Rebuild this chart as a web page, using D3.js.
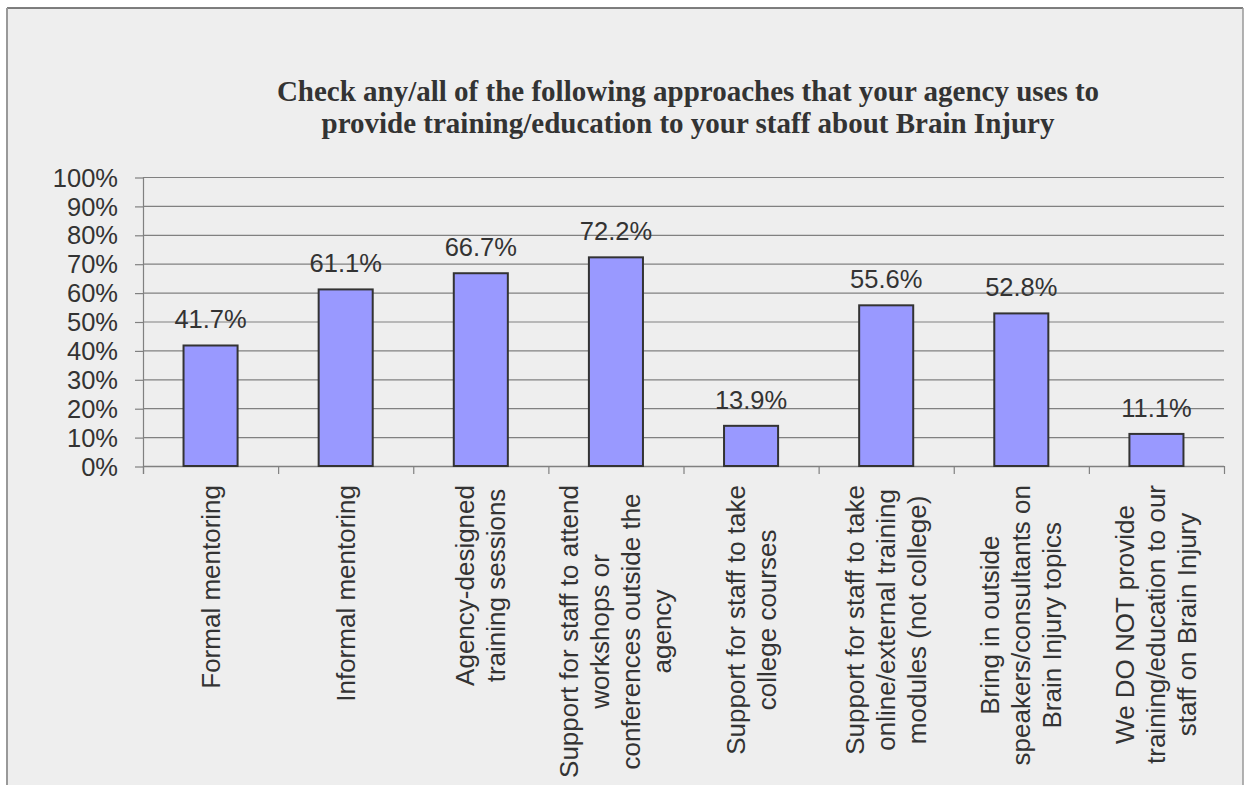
<!DOCTYPE html>
<html>
<head>
<meta charset="utf-8">
<script src="https://cdn.jsdelivr.net/npm/d3@7"></script>
<style>
  html, body { margin: 0; padding: 0; background: #ffffff; }
  svg { display: block; }
</style>
</head>
<body>
<svg id="chart" width="1252" height="785"></svg>
<script>
// Survey responses: share of agencies using each training approach
const categories = [
  ["Formal mentoring"],
  ["Informal mentoring"],
  ["Agency-designed", "training sessions"],
  ["Support for staff to attend", "workshops or", "conferences outside the", "agency"],
  ["Support for staff to take", "college courses"],
  ["Support for staff to take", "online/external training", "modules (not college)"],
  ["Bring in outside", "speakers/consultants on", "Brain Injury topics"],
  ["We DO NOT provide", "training/education to our", "staff on Brain Injury"]
];
const values = [41.7, 61.1, 66.7, 72.2, 13.9, 55.6, 52.8, 11.1];
const yTicks = [0, 10, 20, 30, 40, 50, 60, 70, 80, 90, 100];
const titleLines = [
  "Check any/all of the following approaches that your agency uses to",
  "provide training/education to your staff about Brain Injury"
];

const svg = d3.select("#chart");
const textColor = "#333333";
const gridColor = "#808080";

// Chart frame
svg.append("rect")
  .attr("x", 7).attr("y", 8)
  .attr("width", 1236).attr("height", 800)
  .attr("fill", "#eeeeee");
svg.append("line")
  .attr("x1", 7).attr("x2", 1243).attr("y1", 8).attr("y2", 8)
  .attr("stroke", "#555555").attr("stroke-width", 1.5);
svg.append("line")
  .attr("x1", 7).attr("x2", 7).attr("y1", 8).attr("y2", 785)
  .attr("stroke", "#999999").attr("stroke-width", 2);
svg.append("line")
  .attr("x1", 1243).attr("x2", 1243).attr("y1", 8).attr("y2", 785)
  .attr("stroke", "#999999").attr("stroke-width", 1.5);

const plot = { left: 143, right: 1224, top: 177, bottom: 466 };

const x = d3.scaleBand()
  .domain(d3.range(categories.length))
  .range([plot.left, plot.right])
  .paddingInner(0).paddingOuter(0);

const y = d3.scaleLinear()
  .domain([0, 100])
  .range([plot.bottom, plot.top]);

// Title
svg.append("text")
  .attr("x", 688)
  .attr("y", 101)
  .attr("text-anchor", "middle")
  .attr("font-family", "'Liberation Serif', 'Times New Roman', serif")
  .attr("font-weight", "bold")
  .attr("font-size", 29)
  .attr("fill", textColor)
  .selectAll("tspan")
  .data(titleLines)
  .join("tspan")
  .attr("x", 688)
  .attr("dy", (d, i) => i === 0 ? 0 : 32)
  .text(d => d);

// Horizontal gridlines
svg.append("g")
  .selectAll("line")
  .data(yTicks.slice(1))
  .join("line")
  .attr("x1", plot.left).attr("x2", plot.right)
  .attr("y1", d => y(d) + 0.5).attr("y2", d => y(d) + 0.5)
  .attr("stroke", gridColor).attr("stroke-width", 1.2);

// Y axis
const yAxis = svg.append("g")
  .attr("transform", `translate(${plot.left},0)`)
  .call(d3.axisLeft(y).tickValues(yTicks).tickSize(8).tickPadding(17)
    .tickFormat(d => d + "%"));
yAxis.select(".domain").remove();
yAxis.selectAll(".tick line").attr("stroke", gridColor).attr("stroke-width", 1.2)
  .attr("transform", "translate(0,0.5)");
yAxis.selectAll(".tick text")
  .attr("font-family", "'Liberation Sans', Arial, sans-serif")
  .attr("font-size", 25.5)
  .attr("fill", textColor)
  .attr("dy", "0.36em");
svg.append("line")
  .attr("x1", plot.left + 0.5).attr("x2", plot.left + 0.5)
  .attr("y1", plot.top).attr("y2", plot.bottom + 8)
  .attr("stroke", gridColor).attr("stroke-width", 1.2);

// X axis line with ticks at category boundaries
svg.append("line")
  .attr("x1", plot.left).attr("x2", plot.right)
  .attr("y1", plot.bottom + 0.5).attr("y2", plot.bottom + 0.5)
  .attr("stroke", gridColor).attr("stroke-width", 1.5);
const boundaries = d3.range(categories.length + 1)
  .map(i => i < categories.length ? x(i) : x(i - 1) + x.bandwidth());
svg.append("g")
  .selectAll("line")
  .data(boundaries)
  .join("line")
  .attr("x1", d => d + 0.5).attr("x2", d => d + 0.5)
  .attr("y1", plot.bottom).attr("y2", plot.bottom + 8)
  .attr("stroke", gridColor).attr("stroke-width", 1.2);

// Bars
const barW = x.bandwidth() * 0.4;
svg.append("g")
  .selectAll("rect")
  .data(values)
  .join("rect")
  .attr("x", (d, i) => x(i) + (x.bandwidth() - barW) / 2)
  .attr("y", d => y(d))
  .attr("width", barW)
  .attr("height", d => y(0) - y(d))
  .attr("fill", "#9999ff")
  .attr("stroke", "#333333")
  .attr("stroke-width", 2);

// Value labels
svg.append("g")
  .selectAll("text")
  .data(values)
  .join("text")
  .attr("x", (d, i) => x(i) + x.bandwidth() / 2)
  .attr("y", d => y(d) - 17)
  .attr("text-anchor", "middle")
  .attr("font-family", "'Liberation Sans', Arial, sans-serif")
  .attr("font-size", 25.5)
  .attr("fill", textColor)
  .text(d => d.toFixed(1) + "%");

// Rotated category labels, lines centred on one another
const labelTop = 485;
const lineGap = 31;
const labelGroups = svg.append("g")
  .selectAll("g")
  .data(categories)
  .join("g");

labelGroups.each(function(lines, i) {
  const g = d3.select(this);
  const cx = x(i) + x.bandwidth() / 2;
  const texts = g.selectAll("text")
    .data(lines)
    .join("text")
    .attr("font-family", "'Liberation Sans', Arial, sans-serif")
    .attr("font-size", 26)
    .attr("fill", textColor)
    .attr("text-anchor", "middle")
    .text(d => d);
  let maxW = 0;
  texts.each(function() { maxW = Math.max(maxW, this.getComputedTextLength()); });
  const n = lines.length;
  texts.attr("transform", (d, j) => {
    const bx = cx + 9 + (j - (n - 1) / 2) * lineGap;
    const by = labelTop + maxW / 2;
    return `translate(${bx},${by}) rotate(-90)`;
  });
});
</script>
</body>
</html>
